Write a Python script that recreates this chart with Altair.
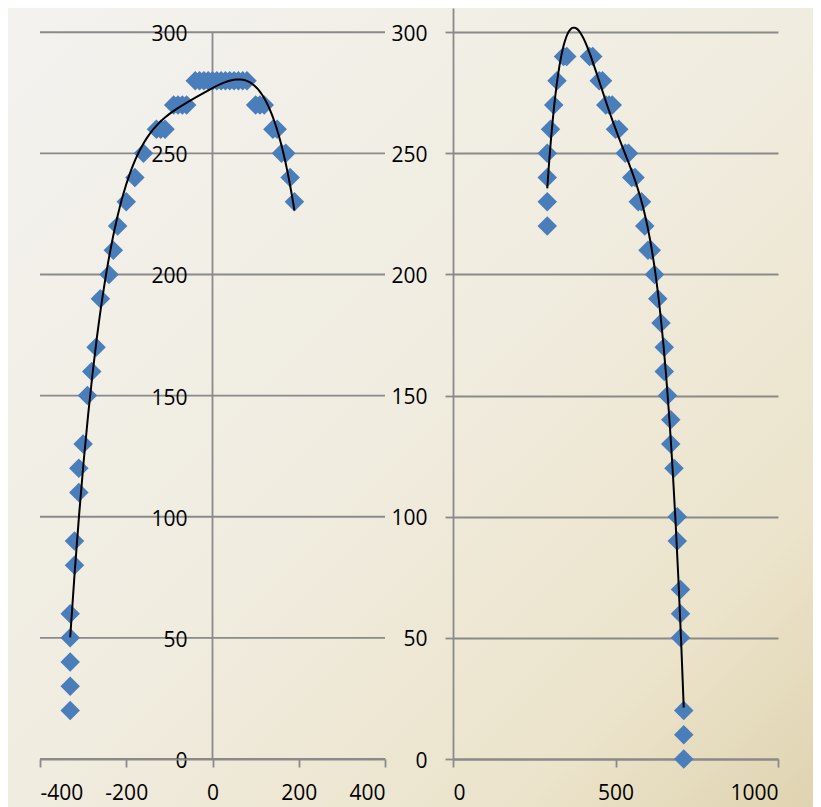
import altair as alt
import pandas as pd

# ---- data ----
left_x = [-330, -330, -330, -330, -330, -320, -320, -310, -310, -300, -290, -280, -270, -260,
          -240, -230, -220, -200, -180, -160,
          -130, -120, -110, -90, -80, -70, -60,
          -40, -30, -20, -10, 0, 10, 20, 30, 40, 50, 60, 70, 80,
          100, 110, 120, 140, 150, 160, 170, 180, 190]
left_y = [20, 30, 40, 50, 60, 80, 90, 110, 120, 130, 150, 160, 170, 190,
          200, 210, 220, 230, 240, 250,
          260, 260, 260, 270, 270, 270, 270,
          280, 280, 280, 280, 280, 280, 280, 280, 280, 280, 280, 280, 280,
          270, 270, 270, 260, 260, 250, 250, 240, 230]

right_x = [290, 290, 290, 290, 300, 310, 320, 340, 350, 420, 430, 450, 460, 470, 480, 490,
           500, 510, 530, 540, 550, 560, 570, 580, 590, 600, 610, 620, 630, 640, 650, 650,
           660, 670, 670, 680, 690, 690, 700, 700, 700, 710, 710, 710]
right_y = [220, 230, 240, 250, 260, 270, 280, 290, 290, 290, 290, 280, 280, 270, 270, 270,
           260, 260, 250, 250, 240, 240, 230, 230, 220, 210, 210, 200, 190, 180, 170, 160,
           150, 140, 130, 120, 100, 90, 70, 60, 50, 20, 10, 0]

y_ticks = [0, 50, 100, 150, 200, 250, 300]
left_x_ticks = [-400, -200, 0, 200, 400]
right_x_ticks = [0, 500, 1000]

# ---- styling ----
FONT = "Open Sans"
FS = 21
GRID = "#8a8a8a"
BLUE = "#4a7ebb"
LW = 1.8
TREND_ORDER = 4
XPAD = 15

left_df = pd.DataFrame({"x": left_x, "y": left_y})
right_df = pd.DataFrame({"x": right_x, "y": right_y})
ytick_df = pd.DataFrame({"v": y_ticks, "x0": [0] * len(y_ticks)})
vline_df = pd.DataFrame({"x0": [0], "y0": [0], "y1": [max(y_ticks)]})

ly = alt.Scale(domain=[0, 310], nice=False, zero=False)
lx = alt.Scale(domain=[-400, 400], nice=False, zero=False)
rx = alt.Scale(domain=[0, 1000], nice=False, zero=False)

lx_axis = alt.Axis(values=left_x_ticks, grid=False, title=None, tickSize=8, labelPadding=XPAD,
                   labelExpr="'' + datum.value", zindex=1)

gradient = alt.LinearGradient(
    gradient="linear",
    stops=[
        alt.GradientStop(color="#f3f2ef", offset=0),
        alt.GradientStop(color="#f0ecdf", offset=0.5),
        alt.GradientStop(color="#ebe3ca", offset=0.82),
        alt.GradientStop(color="#dfd3b0", offset=1),
    ],
    x1=0, y1=0, x2=1, y2=1,
)

bg = alt.Chart(pd.DataFrame({"a": [0]})).mark_rect(fill=gradient, strokeWidth=0).encode(
    x=alt.value(-32), x2=alt.value(773), y=alt.value(0), y2=alt.value(800)
)

# ---- left panel ----
l_grid = alt.Chart(ytick_df).mark_rule(color=GRID, strokeWidth=LW).encode(
    y=alt.Y("v:Q", scale=ly, axis=None)
)
l_vline = alt.Chart(vline_df).mark_rule(color=GRID, strokeWidth=LW).encode(
    x=alt.X("x0:Q", scale=lx, axis=lx_axis),
    y=alt.Y("y0:Q", scale=ly, axis=None),
    y2="y1:Q",
)
l_pts = alt.Chart(left_df).mark_point(
    shape="diamond", filled=True, size=380, color=BLUE, opacity=1, strokeWidth=0
).encode(
    x=alt.X("x:Q", scale=lx, axis=lx_axis),
    y=alt.Y("y:Q", scale=ly, axis=None),
)
l_trend = alt.Chart(left_df).transform_regression(
    "x", "y", method="poly", order=TREND_ORDER
).mark_line(color="black", strokeWidth=2).encode(
    x=alt.X("x:Q", scale=lx, axis=lx_axis),
    y=alt.Y("y:Q", scale=ly, axis=None),
)
l_labels = alt.Chart(ytick_df).mark_text(
    align="right", baseline="middle", dx=-25, dy=3, font=FONT, fontSize=FS, color="black"
).encode(
    x=alt.X("x0:Q", scale=lx, axis=lx_axis),
    y=alt.Y("v:Q", scale=ly, axis=None),
    text="v:Q",
)
left = alt.layer(bg, l_grid, l_vline, l_pts, l_trend, l_labels).properties(width=345, height=751)

# ---- right panel ----
r_pts = alt.Chart(right_df).mark_point(
    shape="diamond", filled=True, size=380, color=BLUE, opacity=1, strokeWidth=0
).encode(
    x=alt.X("x:Q", scale=rx, axis=alt.Axis(
        values=right_x_ticks, grid=False, title=None, tickSize=8, labelPadding=XPAD,
        labelExpr="'' + datum.value")),
    y=alt.Y("y:Q", scale=ly, axis=alt.Axis(
        values=y_ticks, grid=True, title=None, tickSize=8, labelPadding=18, labelOffset=2)),
)
r_trend = alt.Chart(right_df).transform_regression(
    "x", "y", method="poly", order=TREND_ORDER
).mark_line(color="black", strokeWidth=2).encode(
    x=alt.X("x:Q", scale=rx),
    y=alt.Y("y:Q", scale=ly),
)
right = alt.layer(r_pts, r_trend).properties(width=325, height=751)

chart = alt.hconcat(left, right, spacing=68, bounds="flush").properties(
    padding={"left": 0, "top": 0, "right": 0, "bottom": 0}, background="#e9e2cc"
).configure_view(stroke=None).configure_axis(
    labelFont=FONT, labelFontSize=FS, labelColor="black",
    domainColor=GRID, tickColor=GRID, gridColor=GRID,
    domainWidth=LW, tickWidth=LW, gridWidth=LW,
)

chart.save("out.html", embed_options={"renderer": "svg", "actions": False})
